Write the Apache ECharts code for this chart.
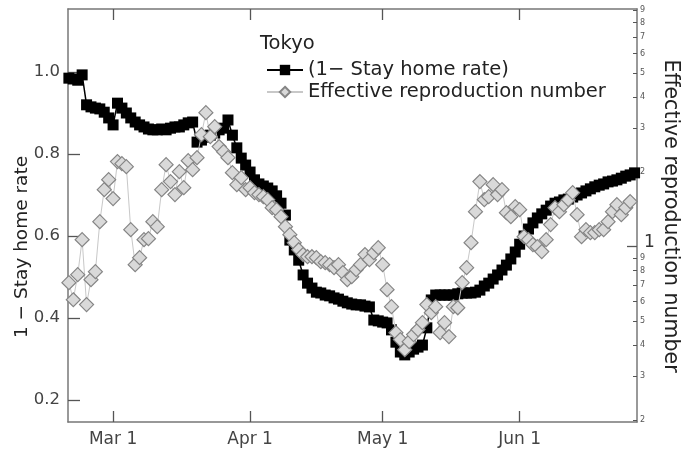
<!DOCTYPE html>
<html>
<head>
<meta charset="utf-8">
<script src="https://cdn.jsdelivr.net/npm/echarts@6/dist/echarts.min.js"></script>
<style>
html,body{margin:0;padding:0;background:#fff;}
#chart{width:685px;height:453px;}
</style>
</head>
<body>
<div id="chart"></div>
<script>
// x positions: days counted from Mar 1 (2020); first observation is Feb 20
const firstDay = -10;
const monthTickDays = [0, 31, 61, 92];
const monthTickLabels = ['Mar 1', 'Apr 1', 'May 1', 'Jun 1'];
const leftTicks = [0.2, 0.4, 0.6, 0.8, 1.0];
const rightTicks = [0.2, 0.3, 0.4, 0.5, 0.6, 0.7, 0.8, 0.9, 1, 2, 3, 4, 5, 6, 7, 8, 9];

// 1 - Stay home rate (daily, Feb 20 .. Jun 27)
const stayHome = [
  0.985, 0.983, 0.980, 0.993, 0.920, 0.915, 0.912, 0.910, 0.902, 0.888,
  0.871, 0.924, 0.912, 0.900, 0.888, 0.878, 0.871, 0.866, 0.861, 0.859,
  0.859, 0.861, 0.859, 0.863, 0.866, 0.866, 0.871, 0.876, 0.878, 0.829,
  0.834, 0.841, 0.846, 0.851, 0.859, 0.863, 0.883, 0.846, 0.815, 0.790,
  0.773, 0.756, 0.737, 0.727, 0.722, 0.717, 0.710, 0.698, 0.680, 0.651,
  0.590, 0.566, 0.541, 0.505, 0.485, 0.473, 0.463, 0.461, 0.456, 0.454,
  0.449, 0.446, 0.441, 0.437, 0.434, 0.432, 0.432, 0.429, 0.427, 0.395,
  0.393, 0.390, 0.388, 0.371, 0.341, 0.317, 0.310, 0.317, 0.324, 0.329,
  0.334, 0.376, 0.444, 0.456, 0.456, 0.456, 0.456, 0.456, 0.459, 0.461,
  0.461, 0.461, 0.463, 0.468, 0.478, 0.485, 0.495, 0.505, 0.517, 0.529,
  0.544, 0.561, 0.580, 0.600, 0.617, 0.632, 0.644, 0.654, 0.663, 0.673,
  0.680, 0.683, 0.688, 0.690, 0.695, 0.700, 0.705, 0.710, 0.715, 0.720,
  0.724, 0.727, 0.732, 0.734, 0.737, 0.741, 0.746, 0.749, 0.754
];

// Effective reproduction number (daily, Feb 20 .. Jun 26)
const reproduction = [
  0.716, 0.611, 0.771, 1.067, 0.584, 0.736, 0.793, 1.261, 1.697, 1.863,
  1.562, 2.202, 2.161, 2.102, 1.171, 0.846, 0.903, 1.067, 1.077, 1.261,
  1.204, 1.697, 2.141, 1.829, 1.621, 2.006, 1.729, 2.222, 2.044, 2.285,
  2.829, 3.470, 2.777, 3.047, 2.531, 2.416, 2.285, 1.988, 1.778, 1.897,
  1.697, 1.729, 1.651, 1.621, 1.591, 1.547, 1.436, 1.410, 1.321, 1.204,
  1.118, 1.038, 0.972, 0.929, 0.911, 0.911, 0.903, 0.870, 0.862, 0.846,
  0.823, 0.846, 0.786, 0.736, 0.757, 0.808, 0.846, 0.929, 0.886, 0.946,
  0.991, 0.846, 0.671, 0.573, 0.450, 0.422, 0.384, 0.414, 0.442, 0.463,
  0.494, 0.584, 0.542, 0.573, 0.450, 0.494, 0.434, 0.573, 0.567, 0.716,
  0.823, 1.038, 1.384, 1.829, 1.547, 1.591, 1.778, 1.621, 1.697, 1.371,
  1.321, 1.450, 1.410, 1.097, 1.067, 1.019, 1.000, 0.955, 1.067, 1.227,
  1.436, 1.384, 1.477, 1.547, 1.651, 1.346, 1.097, 1.171, 1.139, 1.139,
  1.171, 1.171, 1.261, 1.384, 1.477, 1.346, 1.436, 1.519
];

const FONT = 'DejaVu Sans';
const axisColor = '#777';
const chart = echarts.init(document.getElementById('chart'));

const xCommon = {
  type: 'value', min: -10.2, max: 118.55,
  splitLine: { show: false },
  axisLine: { show: true, onZero: false, lineStyle: { color: axisColor, width: 1.5 } },
  axisTick: { show: true, inside: true, length: 11, customValues: monthTickDays, lineStyle: { color: '#555', width: 1.3 } }
};

chart.setOption({
  animation: false,
  backgroundColor: '#fff',
  textStyle: { fontFamily: FONT },
  title: {
    text: 'Tokyo', left: 255, top: 29,
    textStyle: { fontFamily: FONT, fontSize: 19.5, fontWeight: 'normal', color: '#222' }
  },
  legend: {
    orient: 'vertical', left: 261, top: 55, itemWidth: 36, itemHeight: 13, itemGap: 2,
    textStyle: { fontFamily: FONT, fontSize: 19.5, color: '#222' },
    data: ['(1\u2212 Stay home rate)', 'Effective reproduction number']
  },
  grid: { left: 68, right: 48, top: 9, bottom: 31 },
  xAxis: [
    Object.assign({}, xCommon, {
      position: 'bottom',
      axisLabel: {
        customValues: monthTickDays, margin: 9, fontSize: 17, color: '#444', fontFamily: FONT,
        formatter: v => monthTickLabels[monthTickDays.indexOf(v)] || ''
      }
    }),
    Object.assign({}, xCommon, { position: 'top', axisLabel: { show: false } })
  ],
  yAxis: [
    {
      type: 'value', min: 0.1463, max: 1.1537, position: 'left',
      splitLine: { show: false },
      axisLine: { show: true, onZero: false, lineStyle: { color: axisColor, width: 1.5 } },
      axisTick: { inside: true, length: 12, customValues: leftTicks, lineStyle: { color: '#555', width: 1.3 } },
      axisLabel: { customValues: leftTicks, margin: 8, fontSize: 16.5, color: '#444', fontFamily: FONT,
        formatter: v => v.toFixed(1) }
    },
    {
      type: 'log', logBase: 10, min: 0.1964, max: 9.08, position: 'right',
      splitLine: { show: false },
      axisLine: { show: true, onZero: false, lineStyle: { color: axisColor, width: 1.5 } },
      axisTick: { inside: true, length: 4, customValues: rightTicks, lineStyle: { color: '#555', width: 1 } },
      axisLabel: {
        customValues: rightTicks, margin: 3, color: '#555', fontFamily: FONT,
        formatter: v => {
          if (Math.abs(v - 1) < 1e-9) return '{big|1}';
          const d = v < 1 ? Math.round(v * 10) : Math.round(v);
          return '{small|' + d + '}';
        },
        rich: { small: { fontSize: 8, color: '#555' }, big: { fontSize: 17, color: '#333', padding: [-8, 0, 0, 4] } }
      }
    },
    {
      type: 'log', logBase: 10, min: 0.1964, max: 9.08, position: 'right',
      splitLine: { show: false },
      axisLine: { show: false, onZero: false },
      axisTick: { inside: true, length: 10, customValues: [1], lineStyle: { color: '#555', width: 1.3 } },
      axisLabel: { show: false }
    }
  ],
  graphic: [
    { type: 'text', x: 22, y: 247, rotation: Math.PI / 2,
      style: { text: '1 \u2212 Stay home rate', fontFamily: FONT, fontSize: 18.5, fill: '#222', align: 'center', verticalAlign: 'middle' } },
    { type: 'text', x: 670, y: 216, rotation: -Math.PI / 2,
      style: { text: 'Effective reproduction number', fontFamily: FONT, fontSize: 20.5, fill: '#222', align: 'center', verticalAlign: 'middle' } }
  ],
  series: [
    {
      name: '(1\u2212 Stay home rate)', type: 'line', xAxisIndex: 0, yAxisIndex: 0,
      data: stayHome.map((v, i) => [firstDay + i, v]),
      symbol: 'rect', symbolSize: 11,
      lineStyle: { color: '#000', width: 1.5 },
      itemStyle: { color: '#000' }, z: 2
    },
    {
      name: 'Effective reproduction number', type: 'line', xAxisIndex: 0, yAxisIndex: 1,
      data: reproduction.map((v, i) => [firstDay + i, v]),
      symbol: 'diamond', symbolSize: 14,
      lineStyle: { color: '#c8c8c8', width: 1 },
      itemStyle: { color: '#d9d9d9', borderColor: '#858585', borderWidth: 1.2 }, z: 3
    }
  ]
});
</script>
</body>
</html>
